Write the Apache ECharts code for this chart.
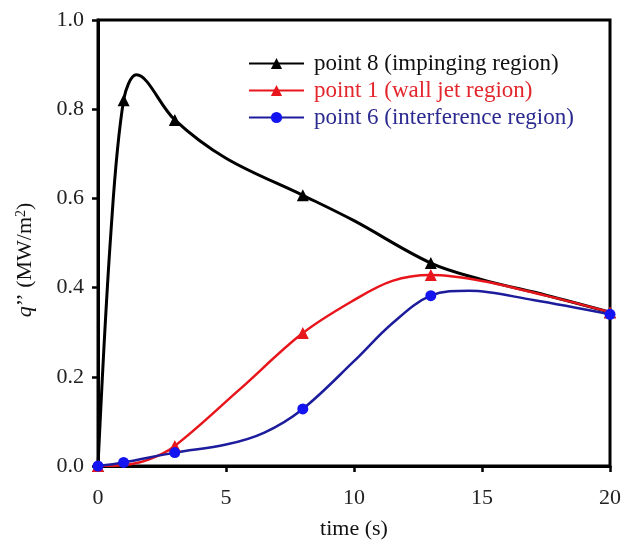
<!DOCTYPE html>
<html>
<head>
<meta charset="utf-8">
<script src="https://cdn.jsdelivr.net/npm/echarts@6/dist/echarts.min.js"></script>
<style>
  html, body { margin: 0; padding: 0; background: #fff; }
  #chart { width: 634px; height: 549px; }
</style>
</head>
<body>
<div id="chart"></div>
<script>
// Heat flux q'' (MW/m^2) versus time (s) at three monitoring points.
// Each curve lists points; *Marked flags where a symbol is drawn.
const seriesNames = ['point 8 (impinging region)', 'point 1 (wall jet region)', 'point 6 (interference region)'];

const blackT = [0, 0.5, 1, 1.5, 3, 5, 8, 10, 13, 15, 17.5, 20];
const blackQ = [0, 0.52, 0.82, 0.877, 0.776, 0.69, 0.607, 0.55, 0.455, 0.418, 0.383, 0.345];
const blackMarked = [1, 0, 1, 0, 1, 0, 1, 0, 1, 0, 0, 1];

const redT = [0, 1, 2, 3, 5.5, 8, 10, 11.5, 13, 15, 17.5, 20];
const redQ = [0, 0.002, 0.015, 0.045, 0.17, 0.298, 0.372, 0.415, 0.428, 0.415, 0.382, 0.345];
const redMarked = [1, 0, 0, 1, 0, 1, 0, 0, 1, 0, 0, 1];

const blueT = [0, 1, 3, 5, 6.5, 8, 10, 11.5, 13, 14.5, 17, 20];
const blueQ = [0, 0.008, 0.03, 0.048, 0.075, 0.128, 0.235, 0.32, 0.382, 0.393, 0.372, 0.34];
const blueMarked = [1, 1, 1, 0, 0, 1, 0, 0, 1, 0, 0, 1];

const FONT = "'Liberation Serif', 'Times New Roman', serif";

function toData(ts, qs, marked) {
  return ts.map((t, i) => marked[i] ? { value: [t, qs[i]] } : { value: [t, qs[i]], symbol: 'none' });
}

const chart = echarts.init(document.getElementById('chart'), null, { renderer: 'canvas' });

chart.setOption({
  backgroundColor: '#ffffff',
  animation: false,
  grid: {
    left: 98, right: 24, top: 20, bottom: 83,
    show: true, borderColor: '#000', borderWidth: 3, backgroundColor: 'transparent'
  },
  legend: {
    orient: 'vertical',
    left: 243,
    top: 47,
    itemWidth: 55,
    itemHeight: 14,
    itemGap: 4,
    textStyle: { fontFamily: FONT, fontSize: 23, padding: [0, 0, 0, 5] },
    data: [
      { name: seriesNames[0], textStyle: { color: '#111111' } },
      { name: seriesNames[1], textStyle: { color: '#e3262c' } },
      { name: seriesNames[2], textStyle: { color: '#2a2a90' } }
    ]
  },
  xAxis: {
    type: 'value',
    min: 0, max: 20, interval: 5,
    name: 'time (s)',
    nameLocation: 'middle',
    nameGap: 52,
    nameTextStyle: { fontFamily: FONT, fontSize: 22, color: '#111' },
    axisLine: { lineStyle: { color: '#000', width: 3 } },
    axisTick: { inside: false, length: 6, lineStyle: { color: '#000', width: 2.5 } },
    axisLabel: { fontFamily: FONT, fontSize: 22, color: '#222', margin: 21 },
    splitLine: { show: false }
  },
  yAxis: {
    type: 'value',
    min: 0, max: 1.0, interval: 0.2,
    name: '{q|q}{t|\u2019\u2019 (MW/m}{s|2}{t|)}',
    nameLocation: 'middle',
    nameGap: 62,
    nameTextStyle: {
      color: '#111',
      padding: [0, 34, 0, 0],
      rich: {
        q: { fontFamily: FONT, fontSize: 22, fontStyle: 'italic', color: '#111' },
        t: { fontFamily: FONT, fontSize: 22, color: '#111' },
        s: { fontFamily: FONT, fontSize: 14, color: '#111', verticalAlign: 'top', padding: [0, 0, 8, 0] }
      }
    },
    axisLine: { lineStyle: { color: '#000', width: 3 } },
    axisTick: { inside: false, length: 6, lineStyle: { color: '#000', width: 2.5 } },
    axisLabel: {
      fontFamily: FONT, fontSize: 22, color: '#222', margin: 14,
      formatter: v => v.toFixed(1)
    },
    splitLine: { show: false }
  },
  series: [
    {
      name: seriesNames[0],
      type: 'line',
      smooth: 0.35,
      symbol: 'triangle',
      symbolSize: 12,
      showAllSymbol: true,
      lineStyle: { color: '#000', width: 3 },
      itemStyle: { color: '#000' },
      data: toData(blackT, blackQ, blackMarked)
    },
    {
      name: seriesNames[1],
      type: 'line',
      smooth: 0.35,
      symbol: 'triangle',
      symbolSize: 12,
      showAllSymbol: true,
      lineStyle: { color: '#e8161c', width: 2.5 },
      itemStyle: { color: '#e8161c' },
      data: toData(redT, redQ, redMarked)
    },
    {
      name: seriesNames[2],
      type: 'line',
      smooth: 0.35,
      symbol: 'circle',
      symbolSize: 11,
      showAllSymbol: true,
      lineStyle: { color: '#1c1c9c', width: 2.5 },
      itemStyle: { color: '#1414f0' },
      data: toData(blueT, blueQ, blueMarked)
    }
  ]
});
</script>
</body>
</html>
